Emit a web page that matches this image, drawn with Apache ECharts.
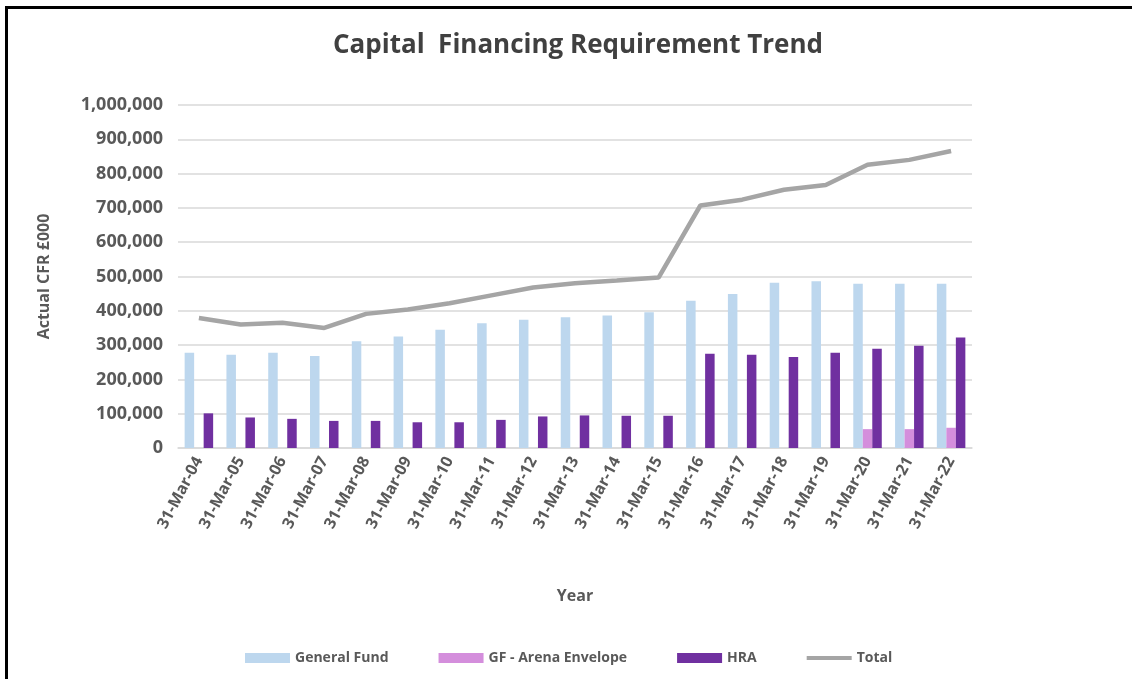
<!DOCTYPE html>
<html>
    <head>
        <meta charset="utf-8">
        <title>Capital Financing Requirement Trend</title>
        <style>*{box-sizing:border-box}html,body{margin:0;padding:0;background:#fff}.chart{position:absolute;left:0;top:0;width:1132px;height:679px}.frame{position:absolute;left:5px;top:6px;width:1127px;height:673px;border-left:3px solid #000;border-top:3px solid #000;pointer-events:none}</style>
    </head>
    <body>
        <div class="chart"></div>
        <div class="frame"></div>
        <script type="text/javascript" src="https://fastly.jsdelivr.net/npm/echarts@6/dist/echarts.min.js"></script>
        <script>
            // values (£000)
            const years = ['31-Mar-04', '31-Mar-05', '31-Mar-06', '31-Mar-07', '31-Mar-08', '31-Mar-09', '31-Mar-10',
                '31-Mar-11', '31-Mar-12', '31-Mar-13', '31-Mar-14', '31-Mar-15', '31-Mar-16', '31-Mar-17',
                '31-Mar-18', '31-Mar-19', '31-Mar-20', '31-Mar-21', '31-Mar-22'];
            const generalFund = [278000, 272000, 278000, 268000, 311000, 325000, 345000, 364000, 374000, 381000,
                386000, 396000, 429000, 449000, 482000, 486000, 479000, 479000, 479000];
            const arenaEnvelope = [null, null, null, null, null, null, null, null, null, null,
                null, null, null, null, null, null, 55000, 55000, 59000];
            const hra = [101000, 89000, 85000, 79000, 79000, 75000, 75000, 82000, 92000, 95000,
                94000, 94000, 275000, 272000, 265000, 278000, 289000, 298000, 322000];
            const total = [379000, 360000, 365000, 350000, 391000, 404000, 422000, 445000, 468000, 480000,
                488000, 497000, 707000, 724000, 753000, 767000, 826000, 840000, 866000];
            const yTicks = [0, 100000, 1000000];

            const font = '"Open Sans", Lato, sans-serif';
            const grey = '#595959';

            const $myChart = echarts.init(document.querySelector('.chart'));
            const opt = {
                animation: false,
                textStyle: { fontFamily: font },
                title: {
                    text: 'Capital  Financing Requirement Trend',
                    top: 28,
                    left: 573,
                    textAlign: 'center',
                    textStyle: { fontFamily: font, fontSize: 26, fontWeight: 'bold', color: '#404040' }
                },
                legend: {
                    left: 240,
                    top: 646,
                    itemWidth: 45,
                    itemHeight: 10,
                    itemGap: 50,
                    textStyle: { fontFamily: font, fontSize: 14, fontWeight: 'bold', color: grey },
                    data: [
                        { name: 'General Fund', icon: 'rect' },
                        { name: 'GF - Arena Envelope', icon: 'rect' },
                        { name: 'HRA', icon: 'rect' },
                        { name: 'Total', icon: 'path://M0,0 L45,0 L45,4 L0,4 Z' }
                    ]
                },
                grid: { left: 178, right: 160, top: 105, bottom: 231 },
                xAxis: {
                    type: 'category',
                    data: years,
                    name: 'Year',
                    nameLocation: 'middle',
                    nameGap: 140,
                    nameTextStyle: { fontFamily: font, fontSize: 16, fontWeight: 'bold', color: grey },
                    axisLine: { lineStyle: { color: '#d9d9d9', width: 1.5 } },
                    axisTick: { show: false },
                    axisLabel: {
                        rotate: 62,
                        margin: 10,
                        fontFamily: font,
                        fontSize: 16,
                        fontWeight: 'bold',
                        color: grey
                    }
                },
                yAxis: {
                    type: 'value',
                    min: yTicks[0],
                    max: yTicks[2],
                    interval: yTicks[1],
                    name: 'Actual CFR £000',
                    nameLocation: 'middle',
                    nameGap: 126,
                    nameTextStyle: { fontFamily: font, fontSize: 16, fontWeight: 'bold', color: grey },
                    axisLine: { show: false },
                    axisTick: { show: false },
                    splitLine: { lineStyle: { color: '#d9d9d9', width: 1.5 } },
                    axisLabel: {
                        margin: 15,
                        fontFamily: font,
                        fontSize: 18,
                        fontWeight: 'bold',
                        color: grey,
                        formatter: v => v.toLocaleString('en-US')
                    }
                },
                series: [
                    {
                        name: 'General Fund',
                        type: 'bar',
                        data: generalFund,
                        barWidth: 9.5,
                        barGap: '0%',
                        itemStyle: { color: '#bdd7ee' }
                    },
                    {
                        name: 'GF - Arena Envelope',
                        type: 'bar',
                        data: arenaEnvelope,
                        barWidth: 9.5,
                        barGap: '0%',
                        itemStyle: { color: '#d48edc' }
                    },
                    {
                        name: 'HRA',
                        type: 'bar',
                        data: hra,
                        barWidth: 9.5,
                        barGap: '0%',
                        itemStyle: { color: '#7030a0' }
                    },
                    {
                        name: 'Total',
                        type: 'line',
                        data: total,
                        showSymbol: false,
                        symbol: 'none',
                        itemStyle: { color: '#a5a5a5' },
                        lineStyle: { color: '#a5a5a5', width: 4.5 },
                        z: 5
                    }
                ]
            };
            $myChart.setOption(opt);
        </script>
    </body>
</html>
